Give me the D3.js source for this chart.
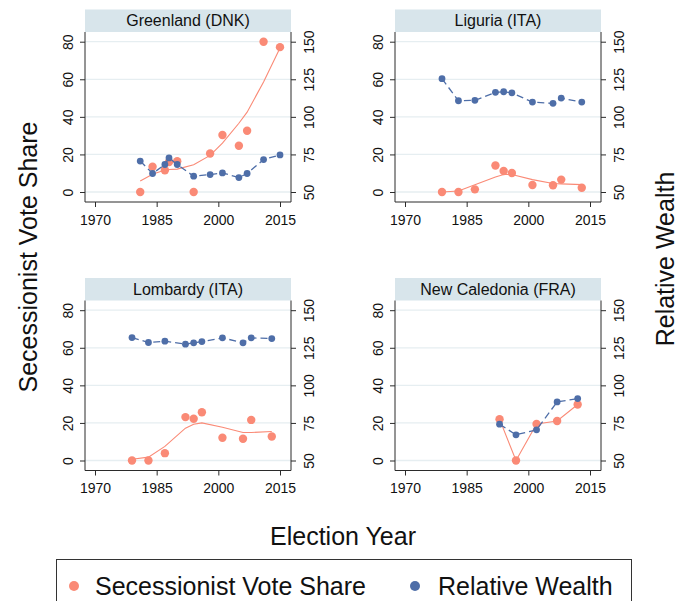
<!DOCTYPE html>
<html>
<head>
<meta charset="utf-8">
<script src="https://cdn.jsdelivr.net/npm/d3@7"></script>
<style>
  html, body { margin: 0; padding: 0; background: #fff; }
  svg { display: block; font-family: "Liberation Sans", Arial, sans-serif; }
</style>
</head>
<body>
<svg id="chart" width="680" height="601"></svg>
<script>
// Panel titles
const regions = ["Greenland (DNK)", "Liguria (ITA)", "Lombardy (ITA)", "New Caledonia (FRA)"];

// Greenland (DNK)
const greenlandYears  = [1981, 1984, 1987, 1988, 1990, 1994, 1998, 2001, 2005, 2007, 2011, 2015];
const greenlandVote   = [0, 13.4, 11.6, 16.0, 16.4, 0, 20.5, 30.3, 24.6, 32.6, 80.0, 77.1];
const greenlandFit    = [5.9, 9.5, 11.7, 12.0, 12.2, 14.5, 19.5, 26.0, 36.6, 42.5, 58.6, 76.7];
const greenlandWealth = [70.6, 62.3, 68.3, 72.7, 68.3, 60.5, 61.6, 62.7, 59.6, 62.3, 71.6, 74.7];

// Liguria (ITA)
const liguriaYears  = [1979, 1983, 1987, 1992, 1994, 1996, 2001, 2006, 2008, 2013];
const liguriaVote   = [0, 0, 1.4, 14.1, 11.2, 10.1, 3.7, 3.6, 6.6, 2.3];
const liguriaFit    = [0, 0.5, 3.9, 8.0, 9.3, 9.3, 6.6, 4.5, 4.3, 3.9];
const liguriaWealth = [125.4, 110.7, 111.0, 116.3, 116.7, 116.0, 109.8, 109.0, 112.5, 109.8];

// Lombardy (ITA)
const lombardyYears  = [1979, 1983, 1987, 1992, 1994, 1996, 2001, 2006, 2008, 2013];
const lombardyVote   = [0, 0, 3.9, 23.1, 22.2, 25.7, 12.1, 11.6, 21.6, 12.8];
const lombardyFit    = [0.7, 1.8, 7.5, 17.2, 19.3, 20.0, 17.7, 14.9, 14.9, 15.4];
const lombardyWealth = [131.8, 128.5, 129.4, 127.4, 128.3, 129.1, 131.6, 128.3, 131.6, 131.1];

// New Caledonia (FRA)
const caledoniaYears  = [1993, 1997, 2002, 2007, 2012];
const caledoniaVote   = [22.0, 0, 19.4, 21.0, 29.8];
const caledoniaFit    = [22.0, 0, 19.4, 21.0, 29.8];
const caledoniaWealth = [74.2, 67.1, 70.4, 89.0, 91.2];

// Axis ticks
const yearTicks   = [1970, 1985, 2000, 2015];
const voteTicks   = [0, 20, 40, 60, 80];
const wealthTicks = [50, 75, 100, 125, 150];

const legendLabels = ["Secessionist Vote Share", "Relative Wealth"];

const panelData = [
  { title: regions[0], years: greenlandYears, vote: greenlandVote, fit: greenlandFit, wealth: greenlandWealth },
  { title: regions[1], years: liguriaYears,   vote: liguriaVote,   fit: liguriaFit,   wealth: liguriaWealth },
  { title: regions[2], years: lombardyYears,  vote: lombardyVote,  fit: lombardyFit,  wealth: lombardyWealth },
  { title: regions[3], years: caledoniaYears, vote: caledoniaVote, fit: caledoniaFit, wealth: caledoniaWealth }
];

const SALMON = "#fa8a76";
const BLUE = "#4e6ea8";
const AXIS = "#2b2b2b";
const GRID = "#e6eef1";
const STRIP = "#d8e5eb";

const svg = d3.select("#chart");

panelData.forEach((p, i) => {
  const ox = (i % 2) * 310;
  const oy = Math.floor(i / 2) * 268.5;
  const left = 85 + ox, right = 291 + ox, top = 32 + oy, bottom = 202 + oy;

  const x = d3.scaleLinear().domain([1970, 2015]).range([95 + ox, 280 + ox]);
  const yVote = d3.scaleLinear().domain([0, 80]).range([192 + oy, 41.7 + oy]);
  const yWealth = d3.scaleLinear().domain([50, 150]).range([192 + oy, 41.7 + oy]);

  const g = svg.append("g");

  // strip with the region name
  g.append("rect")
    .attr("x", left).attr("y", top - 22.5)
    .attr("width", right - left).attr("height", 22.5)
    .attr("fill", STRIP);
  g.append("text")
    .attr("x", (left + right) / 2).attr("y", top - 11.2)
    .attr("dy", "0.35em")
    .attr("text-anchor", "middle")
    .attr("font-size", 16).attr("fill", "#111")
    .text(p.title);

  // horizontal grid lines
  g.append("g").selectAll("line").data(voteTicks).join("line")
    .attr("x1", left).attr("x2", right)
    .attr("y1", d => yVote(d)).attr("y2", d => yVote(d))
    .attr("stroke", GRID).attr("stroke-width", 1.3);

  // left axis (vote share)
  const axL = g.append("g").attr("transform", `translate(${left},0)`)
    .call(d3.axisLeft(yVote).tickValues(voteTicks).tickSize(5).tickSizeOuter(0));
  axL.select(".domain").attr("d", `M0,${top}V${bottom}`);
  axL.selectAll("text")
    .attr("transform", "rotate(-90)")
    .attr("x", 0).attr("y", -16.7).attr("dy", "0.35em")
    .attr("text-anchor", "middle");

  // right axis (relative wealth)
  const axR = g.append("g").attr("transform", `translate(${right},0)`)
    .call(d3.axisRight(yWealth).tickValues(wealthTicks).tickSize(5).tickSizeOuter(0));
  axR.select(".domain").attr("d", `M0,${top}V${bottom}`);
  axR.selectAll("text")
    .attr("transform", "rotate(-90)")
    .attr("x", 0).attr("y", 18).attr("dy", "0.35em")
    .attr("text-anchor", "middle");

  // bottom axis (election year)
  const axB = g.append("g").attr("transform", `translate(0,${bottom})`)
    .call(d3.axisBottom(x).tickValues(yearTicks).tickFormat(d3.format("d")).tickSize(5).tickSizeOuter(0));
  axB.select(".domain").attr("d", `M${left},0H${right}`);
  axB.selectAll("text").attr("y", 13).attr("dy", "0.71em");

  [axL, axR, axB].forEach(a => {
    a.attr("font-size", 14).attr("font-family", null);
    a.selectAll("text").attr("fill", "#111");
    a.selectAll("line").attr("stroke", AXIS);
    a.select(".domain").attr("stroke", AXIS);
  });

  const pts = p.years.map((yr, k) => ({ year: yr, vote: p.vote[k], fit: p.fit[k], wealth: p.wealth[k] }));

  // vote share points
  g.append("g").selectAll("circle").data(pts).join("circle")
    .attr("cx", d => x(d.year)).attr("cy", d => yVote(d.vote))
    .attr("r", 4.2).attr("fill", SALMON);

  // smoothed vote share
  g.append("path")
    .attr("d", d3.line().x(d => x(d.year)).y(d => yVote(d.fit))(pts))
    .attr("fill", "none").attr("stroke", SALMON).attr("stroke-width", 1.1);

  // relative wealth line and points
  g.append("path")
    .attr("d", d3.line().x(d => x(d.year)).y(d => yWealth(d.wealth))(pts))
    .attr("fill", "none").attr("stroke", BLUE).attr("stroke-width", 1.3)
    .attr("stroke-dasharray", "7,4");
  g.append("g").selectAll("circle").data(pts).join("circle")
    .attr("cx", d => x(d.year)).attr("cy", d => yWealth(d.wealth))
    .attr("r", 3.4).attr("fill", BLUE);
});

// axis titles
svg.append("text")
  .attr("transform", "translate(28,257) rotate(-90)")
  .attr("text-anchor", "middle").attr("dy", "0.35em")
  .attr("font-size", 25).attr("fill", "#111")
  .text("Secessionist Vote Share");
svg.append("text")
  .attr("transform", "translate(665,259) rotate(-90)")
  .attr("text-anchor", "middle").attr("dy", "0.35em")
  .attr("font-size", 25).attr("fill", "#111")
  .text("Relative Wealth");
svg.append("text")
  .attr("x", 343).attr("y", 545)
  .attr("text-anchor", "middle")
  .attr("font-size", 25).attr("fill", "#111")
  .text("Election Year");

// legend
const lg = svg.append("g");
lg.append("rect")
  .attr("x", 56.5).attr("y", 559.5).attr("width", 575).attr("height", 60)
  .attr("fill", "#fff").attr("stroke", "#333").attr("stroke-width", 1);
const legendItems = [
  { label: legendLabels[0], color: SALMON, cx: 74, tx: 95 },
  { label: legendLabels[1], color: BLUE, cx: 415, tx: 438 }
];
legendItems.forEach(it => {
  lg.append("circle").attr("cx", it.cx).attr("cy", 586).attr("r", 5).attr("fill", it.color);
  lg.append("text").attr("x", it.tx).attr("y", 595)
    .attr("font-size", 25).attr("fill", "#111").text(it.label);
});
</script>
</body>
</html>
